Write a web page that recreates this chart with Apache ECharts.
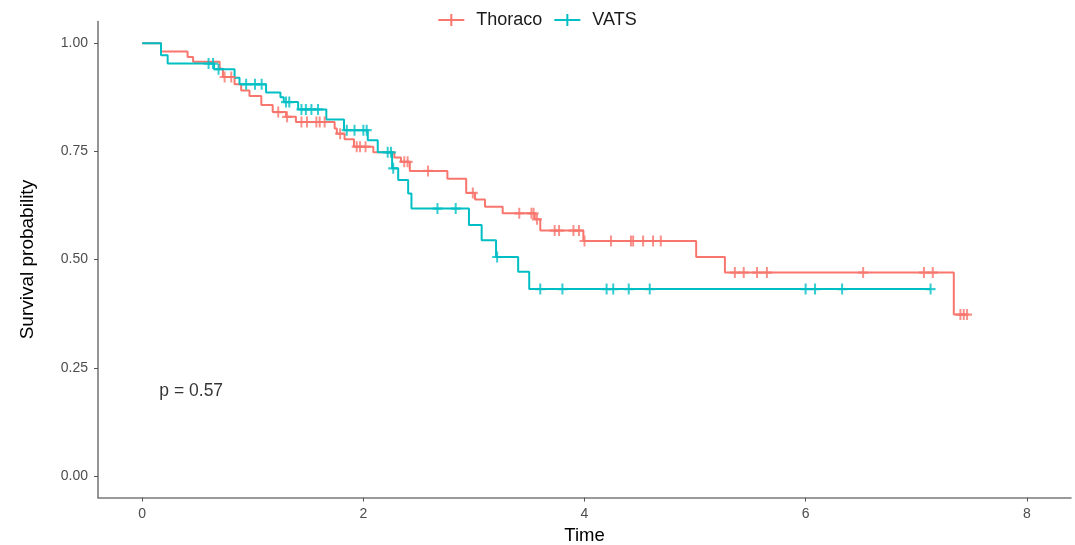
<!DOCTYPE html>
<html>
<head>
<meta charset="utf-8">
<script src="https://cdn.jsdelivr.net/npm/echarts@6/dist/echarts.min.js"></script>
<style>
html,body{margin:0;padding:0;background:#fff;}
#chart{width:1075px;height:545px;}
</style>
</head>
<body>
<div id="chart"></div>
<script>
// ---- Data ----
const xTicks = [0, 2, 4, 6, 8];
const yTicks = [0, 0.25, 0.5, 0.75, 1];
const groupNames = ['Thoraco', 'VATS'];

// Thoraco: event times and survival after each event
const thoracoTimes = [0.17,0.41,0.46,0.70,0.73,0.835,0.895,0.97,1.077,1.18,1.30,1.39,1.74,1.76,1.83,1.915,2.09,2.28,2.34,2.42,2.76,2.93,3.01,3.10,3.26,3.55,3.60,3.99,5.01,5.27,7.34];
const thoracoSurv  = [0.981,0.968,0.957,0.941,0.922,0.905,0.891,0.878,0.857,0.841,0.830,0.818,0.803,0.791,0.778,0.761,0.748,0.736,0.726,0.705,0.687,0.654,0.639,0.622,0.607,0.593,0.567,0.543,0.506,0.470,0.373];
const thoracoCensor = [0.745,0.805,1.23,1.31,1.44,1.49,1.575,1.605,1.65,1.79,1.94,1.97,2.02,2.37,2.40,2.585,2.99,3.41,3.52,3.54,3.57,3.73,3.77,3.90,3.95,4.00,4.24,4.42,4.44,4.53,4.62,4.69,5.36,5.44,5.56,5.65,6.52,7.07,7.15,7.40,7.43,7.46];

// VATS
const vatsTimes = [0.17,0.23,0.65,0.835,0.88,1.12,1.25,1.28,1.41,1.665,1.825,2.04,2.13,2.26,2.315,2.405,2.435,2.955,3.07,3.20,3.40,3.50];
const vatsSurv  = [0.972,0.953,0.940,0.920,0.905,0.886,0.875,0.864,0.847,0.824,0.799,0.776,0.748,0.711,0.684,0.653,0.618,0.580,0.545,0.506,0.472,0.432];
const vatsCensor = [0.60,0.64,0.69,0.94,1.02,1.08,1.30,1.33,1.44,1.48,1.53,1.59,1.85,1.92,2.00,2.03,2.22,2.25,2.27,2.67,2.835,3.21,3.60,3.80,4.20,4.26,4.40,4.59,6.00,6.085,6.33,7.13];

const pText = 'p = 0.57';
const pPos = [0.155, 0.196];

const colors = ['#F8766D', '#00BFC4'];

// ---- Build series data ----
function stepData(times, surv, censor) {
  const d = [[0, 1]];
  for (let i = 0; i < times.length; i++) d.push([times[i], surv[i]]);
  const lastT = Math.max(times[times.length - 1], censor[censor.length - 1]);
  d.push([lastT, surv[surv.length - 1]]);
  return d;
}
function survAt(times, surv, t) {
  let s = 1;
  for (let i = 0; i < times.length; i++) { if (times[i] <= t) s = surv[i]; }
  return s;
}
function censorData(times, surv, censor) {
  return censor.map(c => [c, survAt(times, surv, c)]);
}

const plusPath = 'path://M0,4 L10,4 L10,6 L0,6 Z M4,0 L6,0 L6,10 L4,10 Z';
const legendIcon = 'path://M0,5 L26,5 L26,7 L0,7 Z M12,0 L14,0 L14,12 L12,12 Z';

const groups = [
  {name: groupNames[0], times: thoracoTimes, surv: thoracoSurv, censor: thoracoCensor, color: colors[0]},
  {name: groupNames[1], times: vatsTimes, surv: vatsSurv, censor: vatsCensor, color: colors[1]}
];

const series = [];
groups.forEach(g => {
  series.push({
    name: g.name, type: 'line', step: 'end',
    data: stepData(g.times, g.surv, g.censor),
    showSymbol: false, symbol: 'none',
    lineStyle: {color: g.color, width: 2},
    itemStyle: {color: g.color},
    animation: false, z: 2
  });
  series.push({
    name: g.name, type: 'scatter',
    data: censorData(g.times, g.surv, g.censor),
    symbol: plusPath, symbolSize: [10, 11],
    itemStyle: {color: g.color},
    animation: false, z: 3
  });
});
series.push({
  type: 'scatter', data: [pPos], symbolSize: 0, silent: true,
  label: {show: true, position: 'right', distance: 0, formatter: pText,
          fontSize: 17.5, color: '#000', fontFamily: 'Liberation Sans, Arial, sans-serif'},
  animation: false
});

const chart = echarts.init(document.getElementById('chart'), null, {renderer: 'canvas'});
chart.setOption({
  backgroundColor: '#fff',
  animation: false,
  textStyle: {fontFamily: 'Liberation Sans, Arial, sans-serif'},
  legend: {
    top: 6, left: 'center', itemWidth: 26, itemHeight: 12, itemGap: 12,
    textStyle: {fontSize: 18, color: '#1a1a1a', padding: [0, 0, 0, 7]},
    data: groups.map(g => ({name: g.name, icon: legendIcon, itemStyle: {color: g.color}}))
  },
  grid: {left: 98, right: 4, top: 21.6, bottom: 47.4, containLabel: false, outerBoundsMode: 'none'},
  xAxis: {
    type: 'value', min: -0.4, max: 8.4,
    name: 'Time', nameLocation: 'middle', nameGap: 29,
    nameTextStyle: {fontSize: 18.5, color: '#000'},
    axisLine: {show: true, onZero: false, lineStyle: {color: '#7a7a7a', width: 1.6}},
    axisTick: {show: true, length: 4, lineStyle: {color: '#555'}, customValues: xTicks},
    axisLabel: {fontSize: 14, color: '#4d4d4d', margin: 10, customValues: xTicks,
                formatter: v => String(v)},
    splitLine: {show: false}
  },
  yAxis: {
    type: 'value', min: -0.05, max: 1.05,
    name: 'Survival probability', nameLocation: 'middle', nameGap: 61, nameRotate: 90,
    nameTextStyle: {fontSize: 19, color: '#000'},
    axisLine: {show: true, onZero: false, lineStyle: {color: '#7a7a7a', width: 1.6}},
    axisTick: {show: true, length: 4, lineStyle: {color: '#555'}, customValues: yTicks},
    axisLabel: {fontSize: 14, color: '#4d4d4d', margin: 10, customValues: yTicks,
                formatter: v => v.toFixed(2)},
    splitLine: {show: false}
  },
  series: series
});
</script>
</body>
</html>
